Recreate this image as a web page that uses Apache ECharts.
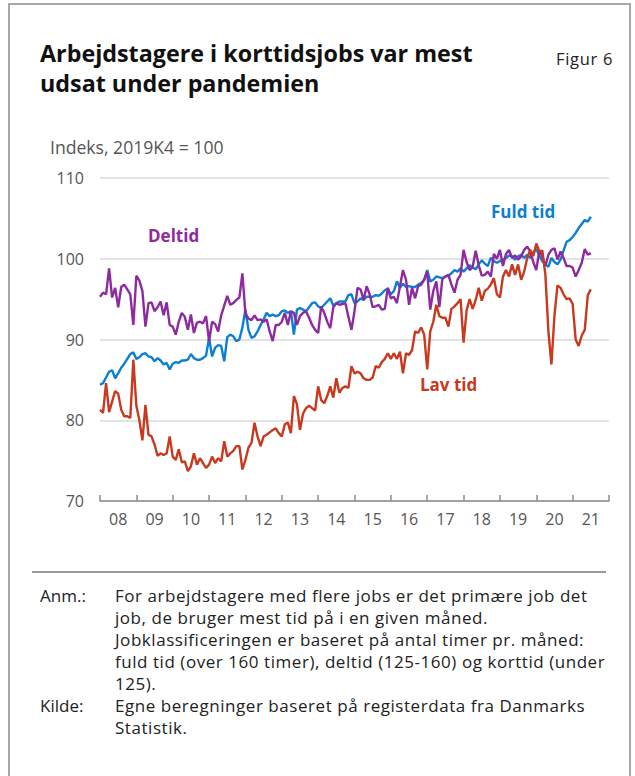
<!DOCTYPE html>
<html>
<head>
<meta charset="utf-8">
<script src="https://cdn.jsdelivr.net/npm/echarts@6/dist/echarts.min.js"></script>
<style>
  html, body { margin: 0; padding: 0; background: #fff; }
  body { width: 635px; height: 776px; position: relative; overflow: hidden; font-family: "Open Sans", sans-serif; }
  .frame { position: absolute; left: 8px; top: 3px; width: 619px; height: 800px; border: 2px solid #a8a8a8; }
  .title { position: absolute; left: 40px; top: 38px; font-size: 23.3px; font-weight: 700; line-height: 30px; color: #111; }
  .fig { position: absolute; left: 556px; top: 47px; font-size: 16.5px; letter-spacing: 0.7px; color: #222; }
  #chart { position: absolute; left: 0; top: 0; width: 635px; height: 560px; }
  .sep { position: absolute; left: 32px; top: 571px; width: 574px; height: 2px; background: #9a9a9a; }
  .notes { position: absolute; left: 40px; top: 585px; font-size: 17px; letter-spacing: 0.55px; line-height: 22px; color: #222; }
  .notes .row { display: flex; }
  .notes .k { width: 75px; flex: none; letter-spacing: 0; }
  .notes .v { white-space: nowrap; }
</style>
</head>
<body>
<div class="frame"></div>
<div class="title">Arbejdstagere i korttidsjobs var mest<br>udsat under pandemien</div>
<div class="fig">Figur 6</div>
<div id="chart"></div>
<div class="sep"></div>
<div class="notes">
  <div class="row"><div class="k">Anm.:</div><div class="v">For arbejdstagere med flere jobs er det primære job det<br>job, de bruger mest tid på i en given måned.<br>Jobklassificeringen er baseret på antal timer pr. måned:<br>fuld tid (over 160 timer), deltid (125-160) og korttid (under<br>125).</div></div>
  <div class="row"><div class="k">Kilde:</div><div class="v">Egne beregninger baseret på registerdata fra Danmarks<br>Statistik.</div></div>
</div>
<script>
// år på x-aksen (2008-2021), månedlige observationer jan 2008 - jul 2021
const years = ["08", "09", "10", "11", "12", "13", "14", "15", "16", "17", "18", "19", "20", "21"];
const yTicks = [70, 80, 90, 100, 110];

const fuldTid = [
  84.4, 84.6, 85.3, 86.0, 86.2, 85.2, 85.8, 86.5, 87.0, 87.6, 88.2, 88.4,
  87.6, 87.8, 88.2, 88.3, 87.9, 87.8, 87.3, 87.7, 87.4, 86.9, 87.1, 86.3,
  87.0, 87.2, 87.1, 87.4, 87.4, 87.5, 88.2, 87.7, 87.5, 87.5, 87.7, 88.0,
  90.2, 87.9, 89.0, 89.3, 89.2, 87.3, 90.3, 90.6, 90.4, 89.8, 90.0, 91.5,
  93.7, 91.2, 90.2, 90.4, 91.0, 91.8, 92.5, 93.3, 92.9, 93.1, 92.9, 93.0,
  93.5, 93.6, 93.3, 93.5, 90.6, 93.7, 93.9, 93.7, 93.5, 94.0, 94.5, 94.6,
  94.1, 93.9, 94.3, 94.7, 95.1, 94.2, 94.5, 94.7, 94.7, 94.7, 95.5, 95.6,
  94.5, 94.7, 95.1, 94.9, 95.3, 95.3, 95.3, 95.5, 95.4, 95.7, 96.1, 96.3,
  95.6, 96.0, 97.2, 96.4, 96.9, 96.5, 96.6, 96.5, 96.5, 96.8, 97.0, 97.4,
  98.6, 97.2, 97.4, 97.8, 97.7, 97.6, 97.8, 97.9, 98.2, 98.6, 98.4, 98.8,
  98.4, 98.8, 99.2, 98.9, 98.7, 99.3, 99.8, 99.4, 99.1, 100.1, 99.7, 99.5,
  99.7, 99.9, 100.1, 100.4, 100.3, 99.9, 100.3, 100.5, 100.1, 100.5, 100.1, 100.8,
  101.2, 100.4, 99.7, 99.3, 99.0, 100.1, 99.6, 99.3, 99.9, 101.0, 102.1, 102.3,
  102.7, 103.2, 103.8, 104.3, 104.8, 104.6, 105.2
];

const deltid = [
  95.3, 95.8, 95.6, 98.8, 95.2, 96.4, 94.0, 96.5, 96.8, 96.2, 95.6, 91.8,
  97.9, 97.3, 96.0, 91.6, 94.5, 94.6, 93.5, 94.0, 94.7, 93.0, 94.6, 91.8,
  91.6, 90.6, 92.2, 93.3, 92.8, 91.2, 93.1, 90.8, 92.1, 92.2, 92.0, 92.9,
  89.8, 92.2, 91.9, 91.0, 93.0, 94.2, 95.4, 94.3, 94.5, 94.9, 95.2, 98.2,
  93.2, 92.6, 92.4, 93.0, 92.4, 92.5, 92.2, 92.5, 91.0, 89.8, 91.8, 91.8,
  92.2, 93.3, 91.8, 93.5, 93.3, 91.8, 92.9, 93.3, 93.5, 92.7, 91.8, 91.2,
  90.8, 94.1, 93.3, 92.2, 91.4, 94.0, 94.5, 94.3, 94.4, 94.5, 92.8, 91.2,
  93.5, 96.4, 96.2, 94.9, 96.6, 95.6, 94.0, 94.1, 94.3, 93.7, 93.8, 96.4,
  95.1, 95.3, 94.5, 96.6, 98.6, 97.4, 94.3, 96.4, 95.1, 96.6, 96.8, 97.4,
  98.4, 93.7, 96.0, 97.2, 94.0, 97.5, 97.8, 98.0, 96.8, 95.8, 97.4, 98.0,
  101.1, 99.6, 98.6, 99.0, 101.0, 99.2, 97.9, 98.0, 98.4, 97.8, 100.6, 100.0,
  101.1, 99.1, 100.6, 101.1, 100.1, 100.4, 99.9, 100.3, 101.1, 101.5, 100.9, 99.6,
  98.6, 101.0, 100.3, 99.1, 100.5, 101.1, 101.3, 99.9, 100.9, 100.1, 99.1, 99.1,
  98.9, 97.8, 98.6, 99.5, 101.2, 100.5, 100.7
];

const lavTid = [
  81.3, 80.9, 84.6, 81.0, 82.3, 83.6, 83.3, 81.3, 80.5, 80.5, 80.3, 87.5,
  81.8, 80.0, 77.5, 81.9, 78.2, 78.0, 77.0, 75.6, 75.9, 75.7, 75.9, 78.0,
  75.5, 75.1, 76.4, 74.8, 74.9, 73.7, 74.3, 75.9, 74.5, 75.3, 74.7, 74.1,
  74.5, 75.5, 74.7, 75.3, 74.9, 77.4, 75.5, 75.9, 76.2, 76.8, 76.8, 73.9,
  75.1, 76.6, 77.2, 79.7, 78.0, 76.8, 78.0, 78.2, 78.5, 78.8, 79.0, 78.4,
  78.0, 79.5, 79.7, 78.4, 83.0, 82.0, 78.8, 80.8, 81.5, 81.8, 81.5, 81.2,
  84.2, 82.5, 82.1, 83.0, 84.2, 82.8, 85.2, 83.4, 84.0, 84.2, 84.0, 86.7,
  85.8, 86.0, 85.8, 85.2, 85.0, 85.0, 85.3, 86.7, 86.5, 87.2, 87.6, 88.3,
  87.6, 88.3, 87.6, 88.5, 85.8, 88.3, 88.1, 88.7, 91.0, 90.8, 91.5, 90.6,
  86.3, 91.0, 92.2, 94.3, 92.9, 92.7, 92.7, 91.6, 93.8, 94.1, 94.5, 95.0,
  89.6, 93.6, 95.0, 93.8, 94.9, 96.4, 94.8, 96.0, 96.3, 96.8, 97.6, 95.6,
  95.2, 97.8, 98.6, 97.8, 99.3, 98.0, 99.3, 97.4, 98.4, 100.1, 101.1, 100.3,
  101.9, 100.9, 101.0, 98.0, 91.0, 86.9, 93.0, 96.7, 96.4, 95.6, 95.0, 95.1,
  94.4, 90.0, 89.2, 90.5, 91.2, 95.5, 96.2
];

// kategorier: en pr. måned, plus januar 2022 som aksens slutpunkt
const months = [];
for (const y of years) {
  for (let m = 1; m <= 12; m++) {
    months.push(y + "-" + String(m).padStart(2, "0"));
  }
}
months.push("22-01");

const colors = { fuld: "#0b7fd3", del: "#8e2a9f", lav: "#c8391d" };

const chart = echarts.init(document.getElementById("chart"), null, { renderer: "svg" });

chart.setOption({
  animation: false,
  grid: { left: 100, right: 26, top: 178, height: 323 },
  xAxis: {
    type: "category",
    data: months,
    boundaryGap: false,
    axisLine: { lineStyle: { color: "#8c8c8c", width: 1.5 } },
    axisTick: {
      inside: true,
      length: 6,
      lineStyle: { color: "#8c8c8c", width: 1.5 },
      interval: (idx) => idx % 12 === 0,
    },
    axisLabel: {
      interval: (idx) => idx % 12 === 6,
      formatter: (v) => v.slice(0, 2),
      color: "#555",
      fontSize: 16,
      fontFamily: "Open Sans",
      margin: 10,
    },
    splitLine: { show: false },
  },
  yAxis: {
    type: "value",
    min: 70,
    max: 110,
    interval: 10,
    axisLine: { show: false },
    axisTick: { show: false },
    axisLabel: {
      color: "#555",
      fontSize: 16,
      fontFamily: "Open Sans",
      margin: 16,
      customValues: yTicks,
    },
    splitLine: { lineStyle: { color: "#d9d9d9", width: 1.5 } },
  },
  graphic: [
    { type: "text", left: 50, top: 138, style: { text: "Indeks, 2019K4 = 100", fill: "#555", font: "17.6px 'Open Sans'" } },
    { type: "text", left: 148, top: 227, style: { text: "Deltid", fill: colors.del, font: "bold 17px 'Open Sans'" } },
    { type: "text", left: 491, top: 203, style: { text: "Fuld tid", fill: colors.fuld, font: "bold 17px 'Open Sans'" } },
    { type: "text", left: 420, top: 376, style: { text: "Lav tid", fill: colors.lav, font: "bold 17px 'Open Sans'" } },
  ],
  series: [
    { name: "Fuld tid", type: "line", data: fuldTid, showSymbol: false, lineStyle: { width: 2.4, color: colors.fuld }, z: 2 },
    { name: "Deltid", type: "line", data: deltid, showSymbol: false, lineStyle: { width: 2.4, color: colors.del }, z: 3 },
    { name: "Lav tid", type: "line", data: lavTid, showSymbol: false, lineStyle: { width: 2.4, color: colors.lav }, z: 4 },
  ],
});
</script>
</body>
</html>
